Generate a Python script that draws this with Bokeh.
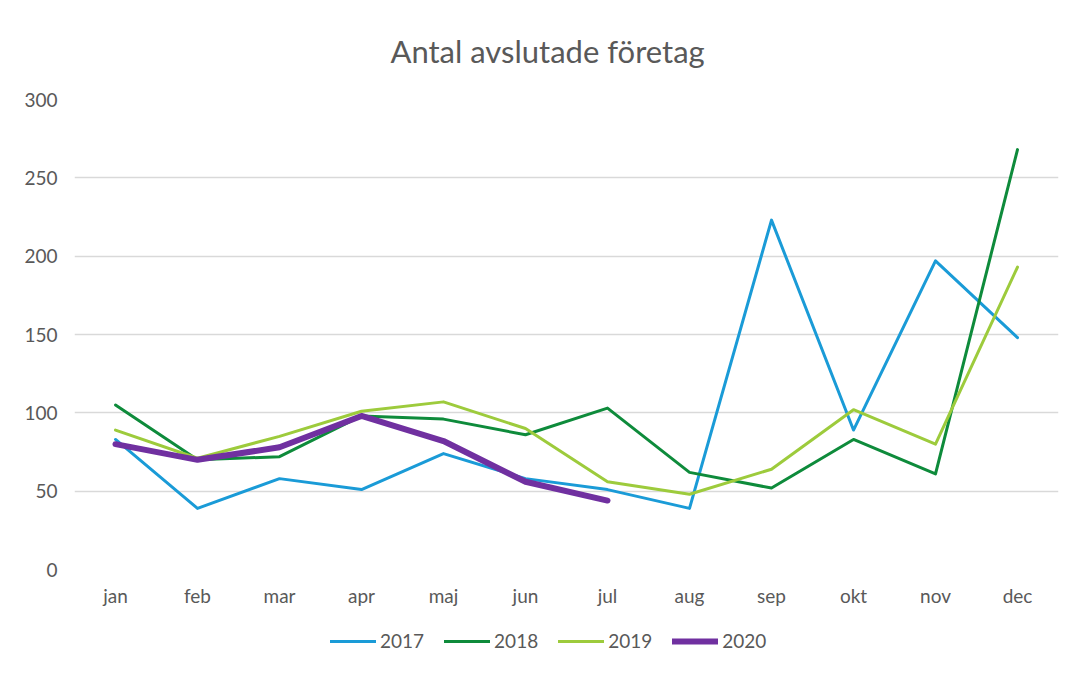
from bokeh.plotting import figure
from bokeh.layouts import column
from bokeh.models import Legend, LegendItem, FactorRange, Range1d, SingleIntervalTicker
from bokeh.embed import file_html
from bokeh.resources import INLINE

months = ["jan", "feb", "mar", "apr", "maj", "jun", "jul", "aug", "sep", "okt", "nov", "dec"]
y2017 = [83, 39, 58, 51, 74, 58, 51, 39, 223, 89, 197, 148]
y2018 = [105, 70, 72, 98, 96, 86, 103, 62, 52, 83, 61, 268]
y2019 = [89, 71, 85, 101, 107, 90, 56, 48, 64, 102, 80, 193]
y2020 = [80, 70, 78, 98, 82, 56, 44]
series_names = ["2017", "2018", "2019", "2020"]
colors = ["#1A9BD7", "#0E8B3B", "#9DCB3C", "#7030A0"]
widths = [3, 3, 3, 6]

FONT = "Lato"
TXT = "#595959"

p1 = figure(frame_width=984, frame_height=470, x_range=FactorRange(*months), y_range=Range1d(0, 300),
            output_backend="svg", toolbar_location=None,
            min_border_left=74, min_border_right=6, min_border_top=99, min_border_bottom=0)
p1.outline_line_color = None
p1.background_fill_color = "white"
p1.border_fill_color = "white"

p1.title.text = "Antal avslutade företag"
p1.title.align = "left"
p1.title.offset = 316
p1.title.text_font = FONT
p1.title.text_font_size = "31px"
p1.title.text_font_style = "normal"
p1.title.text_color = TXT
p1.title.standoff = 59

all_series = [y2017, y2018, y2019, y2020]
for ys, c, w in zip(all_series, colors, widths):
    p1.line(months[:len(ys)], ys, line_color=c, line_width=w, line_join="round", line_cap="round")

p1.yaxis.ticker = SingleIntervalTicker(interval=50)
for ax in (p1.xaxis[0], p1.yaxis[0]):
    ax.axis_line_color = None
    ax.major_tick_line_color = None
    ax.minor_tick_line_color = None
    ax.major_label_text_font = FONT
    ax.major_label_text_font_size = "19px"
    ax.major_label_text_color = TXT
p1.yaxis.major_label_standoff = 11
p1.xaxis.major_label_standoff = 8

p1.xgrid.grid_line_color = None
p1.ygrid.grid_line_color = "#D9D9D9"
p1.ygrid.grid_line_width = 1.5

# legend strip (its lines hold the same data but lie outside its visible range)
p2 = figure(width=1064, height=68, output_backend="svg", toolbar_location=None,
            min_border=0, x_range=Range1d(0, 1), y_range=Range1d(0, 1))
p2.axis.visible = False
p2.grid.grid_line_color = None
p2.outline_line_color = None
p2.background_fill_color = "white"
p2.border_fill_color = "white"
leg_renderers = []
for ys, c, w in zip(all_series, colors, widths):
    leg_renderers.append(p2.line(list(range(len(ys))), ys, line_color=c, line_width=w, line_cap="round"))

legend = Legend(items=[LegendItem(label=n, renderers=[r]) for n, r in zip(series_names, leg_renderers)],
                orientation="horizontal", location=(256, 25))
legend.label_text_font = FONT
legend.label_text_font_size = "19px"
legend.label_text_color = TXT
legend.glyph_width = 46
legend.label_standoff = 4
legend.spacing = 20
legend.border_line_color = None
legend.background_fill_alpha = 0
legend.margin = 0
legend.padding = 4
p2.add_layout(legend, "center")

p = column(p1, p2, spacing=0)
open("out.html", "w").write(file_html(p, INLINE))
